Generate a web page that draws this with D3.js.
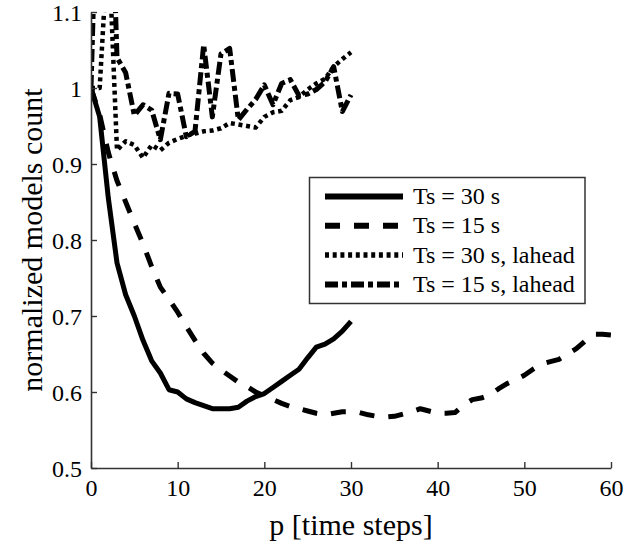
<!DOCTYPE html>
<html><head><meta charset="utf-8">
<script src="https://cdn.jsdelivr.net/npm/d3@7"></script>
<style>
html,body{margin:0;padding:0;background:#fff;}
svg{display:block;}
text{font-family:"Liberation Serif","Times New Roman",serif;fill:#000;}
</style></head>
<body>
<svg id="chart" width="626" height="548" font-family="Liberation Serif, Times New Roman, serif"></svg>
<script>
// ---- data ----
const pShort = d3.range(0, 31);   // 0..30
const pLong = d3.range(0, 61);    // 0..60
const ts30 = [1.0, 0.962, 0.855, 0.77, 0.728, 0.7, 0.668, 0.641, 0.625, 0.603, 0.6,
  0.591, 0.586, 0.582, 0.578, 0.578, 0.578, 0.58, 0.588, 0.594, 0.598,
  0.606, 0.614, 0.622, 0.63, 0.645, 0.659, 0.663, 0.67, 0.68, 0.693];
const ts15 = [1.0, 0.965, 0.915, 0.878, 0.85, 0.822, 0.795, 0.765, 0.738, 0.722, 0.705,
  0.686, 0.668, 0.651, 0.638, 0.629, 0.621, 0.613, 0.607, 0.6, 0.595,
  0.59, 0.585, 0.581, 0.578, 0.575, 0.572, 0.57, 0.572, 0.574, 0.574,
  0.573, 0.57, 0.568, 0.567, 0.568, 0.571, 0.574, 0.578, 0.575, 0.572,
  0.572, 0.573, 0.583, 0.59, 0.592, 0.596, 0.604, 0.611, 0.616, 0.622,
  0.63, 0.637, 0.64, 0.643, 0.65, 0.657, 0.667, 0.676, 0.676, 0.675];
const ts30la = [1.0, 1.0, 1.2, 0.918, 0.93, 0.925, 0.908, 0.925, 0.918, 0.928, 0.933,
  0.937, 0.94, 0.943, 0.944, 0.947, 0.954, 0.952, 0.95, 0.948, 0.962,
  0.968, 0.97, 0.984, 0.988, 0.998, 1.006, 1.012, 1.028, 1.038, 1.047];
const ts15la = [1.0, 1.4, 1.4, 1.04, 1.02, 0.964, 0.978, 0.971, 0.932, 0.993, 0.992,
  0.936, 0.943, 1.057, 0.962, 1.045, 1.052, 0.958, 0.972, 0.985, 1.004,
  0.978, 1.006, 1.011, 0.99, 0.992, 0.998, 1.008, 1.028, 0.969, 0.991];
const xTicks = [0, 10, 20, 30, 40, 50, 60];
const yTicks = [0.5, 0.6, 0.7, 0.8, 0.9, 1.0, 1.1];
const seriesNames = ["Ts = 30 s", "Ts = 15 s", "Ts = 30 s, lahead", "Ts = 15 s, lahead"];
const xTitle = "p [time steps]";
const yTitle = "normalized models count";

// ---- layout ----
const FONT = '"Liberation Serif","Times New Roman",serif';
const svg = d3.select("#chart");
const L = 91, R = 611, T = 12, B = 468;
const x = d3.scaleLinear().domain([0, 60]).range([L, R]);
const y = d3.scaleLinear().domain([0.5, 1.1]).range([B, T]);

const series = [
  {name: seriesNames[0], xs: pShort, ys: ts30, dash: null, w: 5},
  {name: seriesNames[1], xs: pLong, ys: ts15, dash: "15,14", w: 5},
  {name: seriesNames[2], xs: pShort, ys: ts30la, dash: "4,3.7", w: 4.5},
  {name: seriesNames[3], xs: pShort, ys: ts15la, dash: "13,4,5,4", w: 5}
];

svg.append("defs").append("clipPath").attr("id", "clip")
  .append("rect").attr("x", L).attr("y", T).attr("width", R - L).attr("height", B - T);

const line = d3.line().x(d => x(d[0])).y(d => y(d[1]));
const g = svg.append("g").attr("clip-path", "url(#clip)");
series.forEach(s => {
  g.append("path")
    .attr("d", line(s.xs.map((p, i) => [p, s.ys[i]])))
    .attr("fill", "none").attr("stroke", "#000")
    .attr("stroke-width", s.w)
    .attr("stroke-linejoin", "round")
    .attr("stroke-dasharray", s.dash);
});

// axes
const fs = 24;
const xAxis = svg.append("g").attr("transform", `translate(0,${B})`)
  .call(d3.axisBottom(x).tickValues(xTicks).tickSizeInner(-6).tickSizeOuter(0).tickFormat(d3.format("d")));
xAxis.selectAll("text").attr("y", 28).attr("dy", 0);
const yAxis = svg.append("g").attr("transform", `translate(${L},0)`)
  .call(d3.axisLeft(y).tickValues(yTicks).tickSizeInner(-6).tickSizeOuter(0).tickFormat(d => d3.format("")(+d.toFixed(1))));
yAxis.selectAll("text").attr("x", -9).attr("dy", "0.34em");
[xAxis, yAxis].forEach(a => {
  a.attr("font-family", FONT).attr("font-size", fs);
  a.select(".domain").attr("stroke", "#333").attr("stroke-width", 1.6);
  a.selectAll(".tick line").attr("stroke", "#333").attr("stroke-width", 1.4);
  a.selectAll("text").attr("fill", "#000").style("font-family", FONT).style("font-size", fs + "px");
});

svg.append("text").attr("x", (L + R) / 2).attr("y", 535).attr("text-anchor", "middle")
  .style("font-family", FONT).style("font-size", "30px").text(xTitle);
svg.append("text").attr("transform", `translate(42,${(T + B) / 2}) rotate(-90)`)
  .attr("text-anchor", "middle").style("font-family", FONT).style("font-size", "30px").text(yTitle);

// legend
const lg = svg.append("g");
lg.append("rect").attr("x", 309.5).attr("y", 177.5).attr("width", 275.5).attr("height", 126)
  .attr("fill", "#fff").attr("stroke", "#333").attr("stroke-width", 1.5);
series.forEach((s, i) => {
  const yy = 196.5 + i * 29.3;
  lg.append("line").attr("x1", 325).attr("x2", 403).attr("y1", yy).attr("y2", yy)
    .attr("stroke", "#000").attr("stroke-width", s.w + 1).attr("stroke-dasharray", s.dash);
  lg.append("text").attr("x", 413).attr("y", yy + 7.5)
    .style("font-family", FONT).style("font-size", fs + "px").text(s.name);
});
</script>
</body></html>
